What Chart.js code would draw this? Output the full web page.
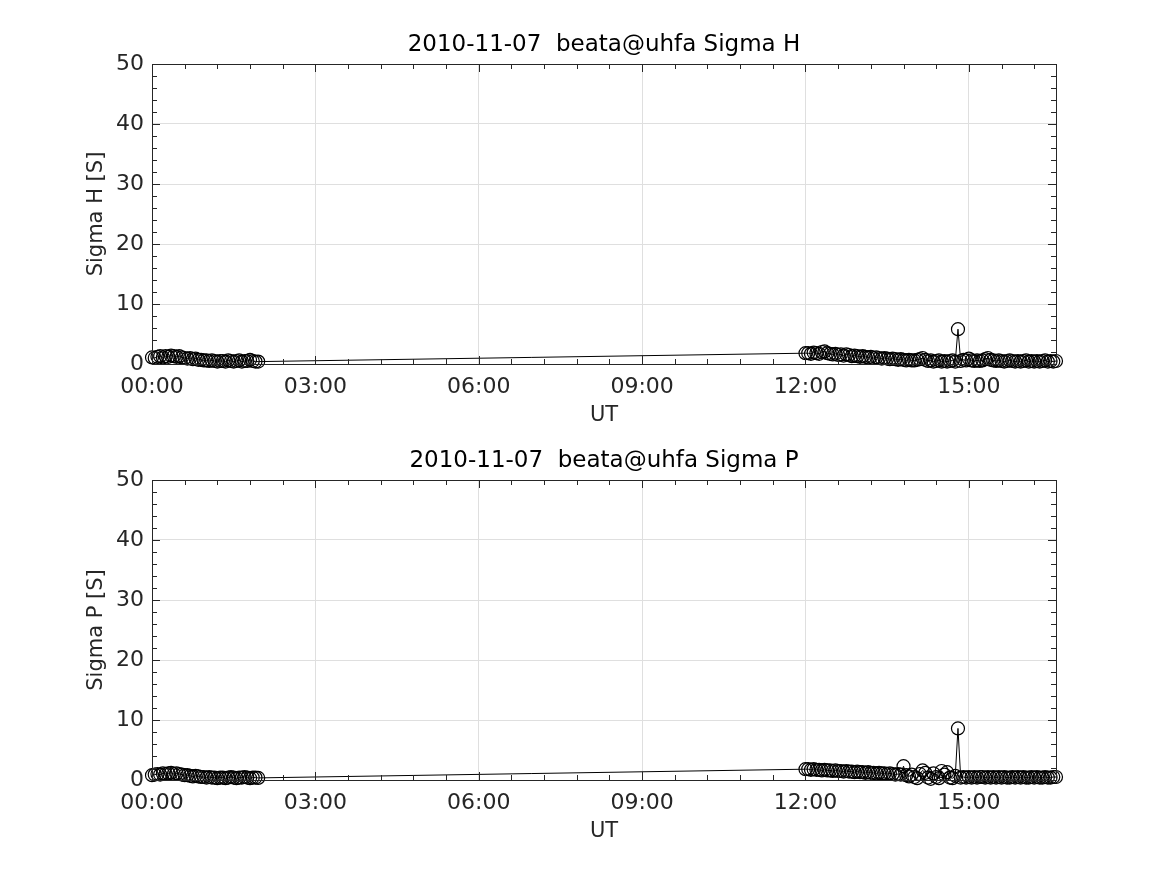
<!DOCTYPE html>
<html>
<head>
<meta charset="utf-8">
<script src="https://cdn.jsdelivr.net/npm/chart.js@4.4.1/dist/chart.umd.min.js"></script>
<style>
  body { margin: 0; background: #fff; }
  .panel { position: absolute; left: 0; width: 1167px; height: 437px; }
</style>
</head>
<body>
<div class="panel" style="top:0"><canvas id="chartH" width="1167" height="437"></canvas></div>
<div class="panel" style="top:416px"><canvas id="chartP" width="1167" height="437"></canvas></div>
<script>
// UT sample times, minutes after 00:00
const timeMin = [
  0, 3, 6, 9, 12, 15, 18, 21, 24, 27, 30, 33, 36, 39, 42, 45, 48, 51, 54, 57,
  60, 63, 66, 69, 72, 75, 78, 81, 84, 87, 90, 93, 96, 99, 102, 105, 108, 111, 114, 117,
  720, 723, 726, 729, 732, 735, 738, 741, 744, 747, 750, 753, 756, 759, 762, 765, 768, 771, 774, 777,
  780, 783, 786, 789, 792, 795, 798, 801, 804, 807, 810, 813, 816, 819, 822, 825, 828, 831, 834, 837,
  840, 843, 846, 849, 852, 855, 858, 861, 864, 867, 870, 873, 876, 879, 882, 885, 888, 891, 894, 897,
  900, 903, 906, 909, 912, 915, 918, 921, 924, 927, 930, 933, 936, 939, 942, 945, 948, 951, 954, 957,
  960, 963, 966, 969, 972, 975, 978, 981, 984, 987, 990, 993, 996
];

const sigmaH = [
  1.1, 1.0, 1.2, 1.3, 1.1, 1.3, 1.2, 1.4, 1.3, 1.2,
  1.3, 1.1, 1.0, 0.9, 1.0, 0.8, 0.9, 0.7, 0.7, 0.6,
  0.6, 0.5, 0.6, 0.5, 0.4, 0.5, 0.5, 0.4, 0.6, 0.5,
  0.4, 0.5, 0.6, 0.4, 0.5, 0.5, 0.7, 0.5, 0.4, 0.4,
  1.8, 1.8, 1.7, 1.9, 1.8, 1.7, 2.0, 2.1, 1.8, 1.7,
  1.6, 1.7, 1.5, 1.6, 1.4, 1.6, 1.5, 1.3, 1.4, 1.3,
  1.2, 1.3, 1.2, 1.1, 1.2, 1.0, 1.1, 1.0, 0.9, 1.0,
  0.9, 0.8, 0.9, 0.8, 0.7, 0.8, 0.7, 0.6, 0.7, 0.6,
  0.6, 0.7, 0.8, 1.0, 0.7, 0.5, 0.6, 0.4, 0.5, 0.6,
  0.4, 0.5, 0.4, 0.5, 0.6, 0.4, 5.8, 0.5, 0.7, 0.6,
  0.9, 0.6, 0.5, 0.6, 0.5, 0.6, 0.8, 1.0, 0.7, 0.6,
  0.5, 0.6, 0.5, 0.4, 0.5, 0.6, 0.5, 0.4, 0.5, 0.4,
  0.5, 0.6, 0.4, 0.5, 0.4, 0.5, 0.4, 0.5, 0.6, 0.4,
  0.5, 0.4, 0.5
];

const sigmaP = [
  0.8, 0.9, 1.0, 0.9, 1.1, 1.0, 1.1, 1.2, 1.0, 1.1,
  1.0, 0.9, 0.8, 0.8, 0.7, 0.6, 0.7, 0.6, 0.5, 0.5,
  0.4, 0.5, 0.4, 0.4, 0.3, 0.4, 0.4, 0.3, 0.4, 0.5,
  0.4, 0.3, 0.4, 0.4, 0.5, 0.4, 0.3, 0.4, 0.4, 0.35,
  1.8, 1.8, 1.7, 1.8, 1.7, 1.7, 1.6, 1.7, 1.6, 1.6,
  1.5, 1.6, 1.5, 1.5, 1.4, 1.5, 1.4, 1.4, 1.3, 1.4,
  1.3, 1.3, 1.2, 1.3, 1.2, 1.2, 1.1, 1.2, 1.1, 1.1,
  1.0, 1.1, 1.0, 0.9, 1.0, 0.9, 2.3, 0.8, 0.6, 0.9,
  0.5, 0.3, 1.0, 1.6, 1.2, 0.4, 0.2, 1.1, 0.5, 0.3,
  1.5, 0.9, 1.3, 0.4, 0.3, 0.7, 8.6, 0.4, 0.5, 0.4,
  0.5, 0.4, 0.5, 0.4, 0.5, 0.5, 0.4, 0.5, 0.4, 0.5,
  0.4, 0.5, 0.4, 0.5, 0.4, 0.4, 0.5, 0.4, 0.5, 0.4,
  0.5, 0.4, 0.4, 0.5, 0.4, 0.5, 0.4, 0.4, 0.5, 0.4,
  0.4, 0.5, 0.5
];

const xTickValues = [0, 180, 360, 540, 720, 900];
const xTickLabels = ['00:00', '03:00', '06:00', '09:00', '12:00', '15:00'];
const yTickValues = [0, 10, 20, 30, 40, 50];
const xMax = 996;
const xMinorStep = 36;
const yMinorStep = 2;

const FONT = 'DejaVu Sans';
const AXIS_COLOR = '#262626';

// MATLAB style box with inward ticks on all four sides
const matlabBox = {
  id: 'matlabBox',
  afterDatasetsDraw(chart) {
    const { ctx, chartArea: a, scales: { x, y } } = chart;
    ctx.save();
    ctx.strokeStyle = AXIS_COLOR;
    ctx.lineWidth = 1;
    ctx.beginPath();
    for (let v = x.min; v <= x.max; v += xMinorStep) {
      const px = Math.round(x.getPixelForValue(v)) + 0.5;
      const len = xTickValues.includes(v) ? 8 : 5;
      ctx.moveTo(px, a.bottom); ctx.lineTo(px, a.bottom - len);
      ctx.moveTo(px, a.top); ctx.lineTo(px, a.top + len);
    }
    for (let v = y.min; v <= y.max; v += yMinorStep) {
      const py = Math.round(y.getPixelForValue(v)) + 0.5;
      const len = yTickValues.includes(v) ? 8 : 5;
      ctx.moveTo(a.left, py); ctx.lineTo(a.left + len, py);
      ctx.moveTo(a.right, py); ctx.lineTo(a.right - len, py);
    }
    ctx.stroke();
    ctx.strokeRect(Math.round(a.left) + 0.5, Math.round(a.top) + 0.5,
      Math.round(a.right - a.left), Math.round(a.bottom - a.top));
    ctx.restore();
  }
};

function makeChart(id, values, titleText, yLabel) {
  const ctx = document.getElementById(id).getContext('2d');
  return new Chart(ctx, {
    type: 'line',
    data: {
      datasets: [{
        data: timeMin.map((t, i) => ({ x: t, y: values[i] })),
        borderColor: '#000',
        borderWidth: 1,
        pointRadius: 6.5,
        pointBorderWidth: 1.2,
        pointBorderColor: '#000',
        pointBackgroundColor: 'rgba(0,0,0,0)',
        tension: 0,
        clip: false
      }]
    },
    options: {
      responsive: false,
      animation: false,
      layout: { padding: { left: 0, right: 111, top: 0, bottom: 0 } },
      plugins: {
        legend: { display: false },
        tooltip: { enabled: false },
        title: {
          display: true,
          fullSize: false,
          text: titleText,
          color: '#000',
          font: { family: FONT, size: 23, weight: 'normal' },
          padding: { top: 31.2, bottom: 5.2 }
        }
      },
      scales: {
        x: {
          type: 'linear',
          min: 0,
          max: xMax,
          afterBuildTicks: scale => {
            scale.ticks = xTickValues.map(v => ({ value: v }));
          },
          afterFit: scale => { scale.height = 73; },
          ticks: {
            color: AXIS_COLOR,
            font: { family: FONT, size: 22 },
            padding: 10,
            maxRotation: 0,
            autoSkip: false,
            callback: v => xTickLabels[xTickValues.indexOf(v)]
          },
          grid: { color: '#dfdfdf', drawTicks: false },
          border: { display: false },
          title: {
            display: true,
            text: 'UT',
            color: AXIS_COLOR,
            font: { family: FONT, size: 21 },
            padding: { top: 0, bottom: 8.4 }
          }
        },
        y: {
          min: 0,
          max: 50,
          afterBuildTicks: scale => {
            scale.ticks = yTickValues.map(v => ({ value: v }));
          },
          afterFit: scale => { scale.width = 152; },
          ticks: {
            color: AXIS_COLOR,
            font: { family: FONT, size: 22 },
            padding: 8
          },
          grid: { color: '#dfdfdf', drawTicks: false },
          border: { display: false },
          title: {
            display: true,
            text: yLabel,
            color: AXIS_COLOR,
            font: { family: FONT, size: 21 },
            padding: { top: 84.4, bottom: 0 }
          }
        }
      }
    },
    plugins: [matlabBox]
  });
}

makeChart('chartH', sigmaH, '2010-11-07  beata@uhfa Sigma H', 'Sigma H [S]');
makeChart('chartP', sigmaP, '2010-11-07  beata@uhfa Sigma P', 'Sigma P [S]');
</script>
</body>
</html>
